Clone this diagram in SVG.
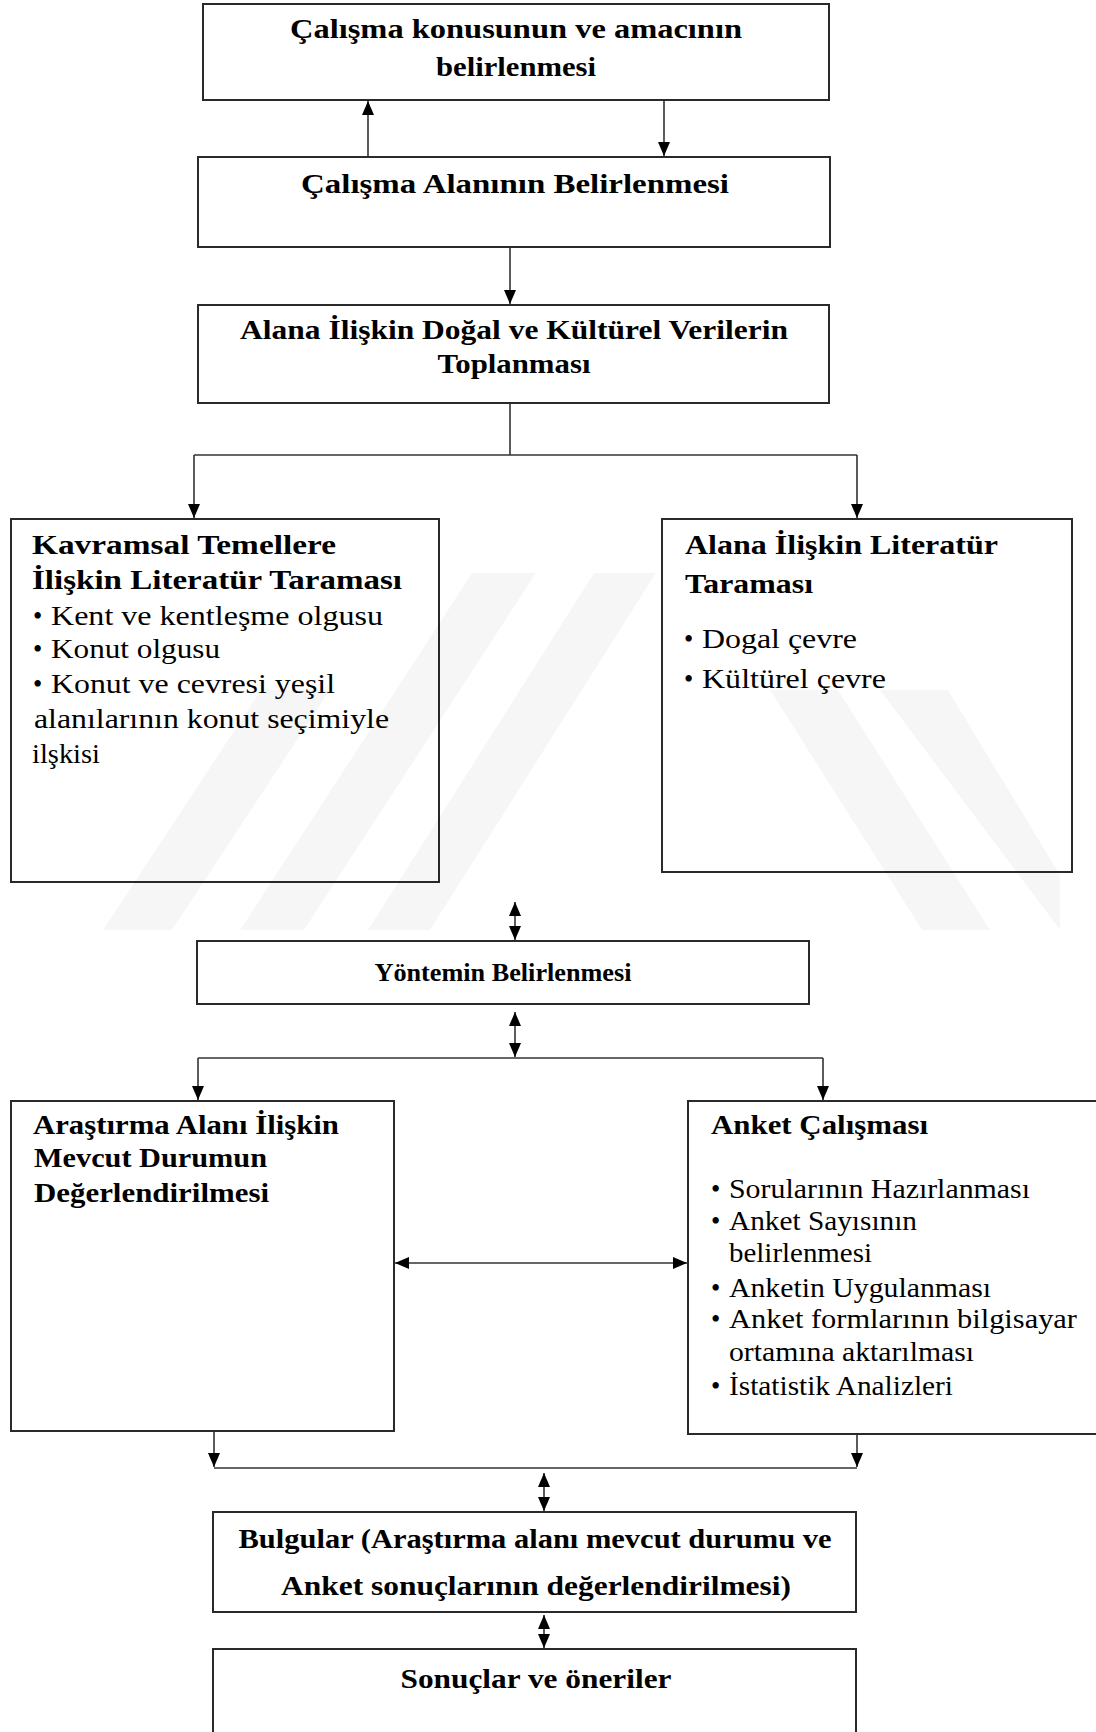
<svg xmlns="http://www.w3.org/2000/svg" width="1096" height="1732" viewBox="0 0 1096 1732" font-family="'Liberation Serif', 'Times New Roman', serif">
<style>
.box{fill:#fff;stroke:#2a2a2a;stroke-width:2}
text{font-family:'Liberation Serif','Times New Roman',serif;fill:#000}
.b{font-weight:bold;font-size:26.5px}
.r{font-size:26.5px}
.c{text-anchor:middle}
.ln{fill:none;stroke:#333;stroke-width:1.6}
.wm{fill:#000;fill-opacity:0.035}
</style>
<defs>
<marker id="ah" viewBox="0 0 14 12" refX="14" refY="6" markerWidth="14" markerHeight="12" markerUnits="userSpaceOnUse" orient="auto-start-reverse">
<path d="M0,0 L14,6 L0,12 z" fill="#000"/>
</marker>
</defs>
<rect x="0" y="0" width="1096" height="1732" fill="#fff"/>

<g id="n1">
<rect class="box" x="203" y="4" width="626" height="96"/>
<text class="b c" x="516" y="38" textLength="452" lengthAdjust="spacingAndGlyphs">Çalışma konusunun  ve amacının</text>
<text class="b c" x="516" y="76" textLength="160" lengthAdjust="spacingAndGlyphs">belirlenmesi</text>
</g>
<g id="n2">
<rect class="box" x="198" y="157" width="632" height="90"/>
<text class="b c" x="515" y="193" textLength="428" lengthAdjust="spacingAndGlyphs">Çalışma Alanının  Belirlenmesi</text>
</g>
<g id="n3">
<rect class="box" x="198" y="305" width="631" height="98"/>
<text class="b c" x="514" y="339" textLength="548" lengthAdjust="spacingAndGlyphs">Alana İlişkin Doğal ve Kültürel Verilerin</text>
<text class="b c" x="514" y="373" textLength="153" lengthAdjust="spacingAndGlyphs">Toplanması</text>
</g>
<g id="n4">
<rect class="box" x="11" y="519" width="428" height="363"/>
<text class="b" x="32" y="554" textLength="304" lengthAdjust="spacingAndGlyphs">Kavramsal  Temellere</text>
<text class="b" x="32" y="589" textLength="370" lengthAdjust="spacingAndGlyphs">İlişkin Literatür  Taraması</text>
<text class="r" x="33" y="625">•</text>
<text class="r" x="51" y="625" textLength="332" lengthAdjust="spacingAndGlyphs">Kent ve kentleşme  olgusu</text>
<text class="r" x="33" y="658">•</text>
<text class="r" x="51" y="658" textLength="169" lengthAdjust="spacingAndGlyphs">Konut  olgusu</text>
<text class="r" x="33" y="693">•</text>
<text class="r" x="51" y="693" textLength="284" lengthAdjust="spacingAndGlyphs">Konut  ve  cevresi  yeşil</text>
<text class="r" x="34" y="728" textLength="355" lengthAdjust="spacingAndGlyphs">alanılarının  konut  seçimiyle</text>
<text class="r" x="32" y="763" textLength="68" lengthAdjust="spacingAndGlyphs">ilşkisi</text>
</g>
<g id="n5">
<rect class="box" x="662" y="519" width="410" height="353"/>
<text class="b" x="685" y="554" textLength="313" lengthAdjust="spacingAndGlyphs">Alana  İlişkin  Literatür</text>
<text class="b" x="685" y="593" textLength="128" lengthAdjust="spacingAndGlyphs">Taraması</text>
<text class="r" x="684" y="648">•</text>
<text class="r" x="702" y="648" textLength="155" lengthAdjust="spacingAndGlyphs">Dogal  çevre</text>
<text class="r" x="684" y="688">•</text>
<text class="r" x="702" y="688" textLength="184" lengthAdjust="spacingAndGlyphs">Kültürel  çevre</text>
</g>
<g id="n6">
<rect class="box" x="197" y="941" width="612" height="63"/>
<text class="c" x="503" y="981" font-size="26" font-weight="bold" textLength="257" lengthAdjust="spacingAndGlyphs">Yöntemin Belirlenmesi</text>
</g>
<g id="n7">
<rect class="box" x="11" y="1101" width="383" height="330"/>
<text class="b" x="33" y="1134" textLength="306" lengthAdjust="spacingAndGlyphs">Araştırma Alanı İlişkin</text>
<text class="b" x="34" y="1167" textLength="233" lengthAdjust="spacingAndGlyphs">Mevcut Durumun</text>
<text class="b" x="34" y="1202" textLength="235" lengthAdjust="spacingAndGlyphs">Değerlendirilmesi</text>
</g>
<g id="n8">
<rect class="box" x="688" y="1101" width="420" height="333"/>
<text class="b" x="711" y="1134" textLength="217" lengthAdjust="spacingAndGlyphs">Anket Çalışması</text>
<text class="r" x="711" y="1198">•</text>
<text class="r" x="729" y="1198" textLength="301" lengthAdjust="spacingAndGlyphs">Sorularının  Hazırlanması</text>
<text class="r" x="711" y="1230">•</text>
<text class="r" x="729" y="1230" textLength="188" lengthAdjust="spacingAndGlyphs">Anket Sayısının</text>
<text class="r" x="729" y="1262" textLength="143" lengthAdjust="spacingAndGlyphs">belirlenmesi</text>
<text class="r" x="711" y="1297">•</text>
<text class="r" x="729" y="1297" textLength="262" lengthAdjust="spacingAndGlyphs">Anketin Uygulanması</text>
<text class="r" x="711" y="1328">•</text>
<text class="r" x="729" y="1328" textLength="348" lengthAdjust="spacingAndGlyphs">Anket formlarının  bilgisayar</text>
<text class="r" x="729" y="1361" textLength="245" lengthAdjust="spacingAndGlyphs">ortamına aktarılması</text>
<text class="r" x="711" y="1395">•</text>
<text class="r" x="729" y="1395" textLength="224" lengthAdjust="spacingAndGlyphs">İstatistik Analizleri</text>
</g>
<g id="n9">
<rect class="box" x="213" y="1512" width="643" height="100"/>
<text class="b c" x="535" y="1548" textLength="593" lengthAdjust="spacingAndGlyphs">Bulgular (Araştırma alanı mevcut durumu ve</text>
<text class="b c" x="536" y="1595" textLength="510" lengthAdjust="spacingAndGlyphs">Anket sonuçlarının değerlendirilmesi)</text>
</g>
<g id="n10">
<rect class="box" x="213" y="1649" width="643" height="100"/>
<text class="c" x="536" y="1688" font-size="26.5" font-weight="bold" textLength="271" lengthAdjust="spacingAndGlyphs">Sonuçlar ve öneriler</text>
</g>

<g id="connectors">
<line class="ln" x1="368" y1="157" x2="368" y2="101" marker-end="url(#ah)"/>
<line class="ln" x1="664" y1="101" x2="664" y2="156" marker-end="url(#ah)"/>
<line class="ln" x1="510" y1="248" x2="510" y2="304" marker-end="url(#ah)"/>
<polyline class="ln" points="510,404 510,455"/>
<polyline class="ln" points="194,455 857,455"/>
<line class="ln" x1="194" y1="455" x2="194" y2="518" marker-end="url(#ah)"/>
<line class="ln" x1="857" y1="455" x2="857" y2="518" marker-end="url(#ah)"/>
<line class="ln" x1="515" y1="902" x2="515" y2="940" stroke-width="2" marker-start="url(#ah)" marker-end="url(#ah)"/>
<line class="ln" x1="515" y1="1012" x2="515" y2="1057" stroke-width="2" marker-start="url(#ah)" marker-end="url(#ah)"/>
<polyline class="ln" points="198,1058 823,1058"/>
<line class="ln" x1="198" y1="1058" x2="198" y2="1100" marker-end="url(#ah)"/>
<line class="ln" x1="823" y1="1058" x2="823" y2="1100" marker-end="url(#ah)"/>
<line class="ln" x1="395" y1="1263" x2="687" y2="1263" marker-start="url(#ah)" marker-end="url(#ah)"/>
<line class="ln" x1="214" y1="1432" x2="214" y2="1467" marker-end="url(#ah)"/>
<line class="ln" x1="857" y1="1435" x2="857" y2="1467" marker-end="url(#ah)"/>
<polyline class="ln" points="214,1468 857,1468"/>
<line class="ln" x1="544" y1="1473" x2="544" y2="1511" stroke-width="2" marker-start="url(#ah)" marker-end="url(#ah)"/>
<line class="ln" x1="544" y1="1615" x2="544" y2="1648" stroke-width="2" marker-start="url(#ah)" marker-end="url(#ah)"/>
</g>

<g id="watermark">
<polygon class="wm" points="261,690 330,690 172,930 103,930"/>
<polygon class="wm" points="472,573 536,573 304,930 240,930"/>
<polygon class="wm" points="594,573 656,573 430,930 368,930"/>
<polygon class="wm" points="770,690 838,690 990,930 922,930"/>
<polygon class="wm" points="880,690 948,690 1060,875 1060,930"/>
</g>
</svg>
